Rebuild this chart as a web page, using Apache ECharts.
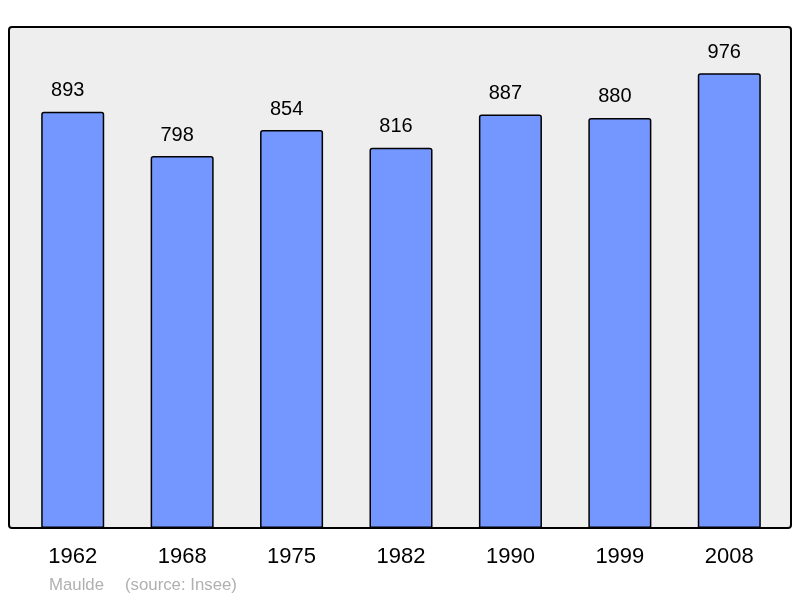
<!DOCTYPE html>
<html>
<head>
<meta charset="utf-8">
<script src="https://cdn.jsdelivr.net/npm/echarts@6/dist/echarts.min.js"></script>
<style>
  html, body { margin: 0; padding: 0; background: #fff; }
  #chart { width: 800px; height: 598px; }
</style>
</head>
<body>
<div id="chart"></div>
<script>
// années du recensement
var years = ['1962', '1968', '1975', '1982', '1990', '1999', '2008'];
// population
var population = [893, 798, 854, 816, 887, 880, 976];

var myChart = echarts.init(document.getElementById('chart'));

var option = {
    backgroundColor: '#fff',
    animation: false,
    textStyle: { fontFamily: 'Liberation Sans, Arial, sans-serif' },
    graphic: [
        {
            type: 'rect',
            z: -10,
            shape: { x: 9, y: 27, width: 782, height: 501, r: 3 },
            style: { fill: '#eeeeee', stroke: '#000', lineWidth: 2 }
        },
        {
            type: 'text',
            left: 49,
            top: 577,
            style: {
                text: 'Maulde',
                fill: '#b0b0b0',
                font: '16.8px Liberation Sans, Arial, sans-serif'
            }
        },
        {
            type: 'text',
            left: 125,
            top: 577,
            style: {
                text: '(source: Insee)',
                fill: '#b0b0b0',
                font: '16.8px Liberation Sans, Arial, sans-serif'
            }
        }
    ],
    grid: { left: 18, right: 16, top: 27, bottom: 70 },
    xAxis: {
        type: 'category',
        data: years,
        axisLine: { show: false },
        axisTick: { show: false },
        axisLabel: { color: '#000', fontSize: 22, margin: 18 }
    },
    yAxis: {
        type: 'value',
        min: 0,
        max: 1075,
        show: false,
        splitLine: { show: false }
    },
    series: [{
        type: 'bar',
        data: population,
        barWidth: '57.6%',
        itemStyle: {
            color: '#7396ff',
            borderColor: '#000',
            borderWidth: 1.5,
            borderRadius: [2, 2, 0, 0]
        },
        label: {
            show: true,
            position: 'top',
            distance: 11,
            offset: [-5, 0],
            color: '#000',
            fontSize: 20
        }
    }]
};
myChart.setOption(option);
</script>
</body>
</html>
